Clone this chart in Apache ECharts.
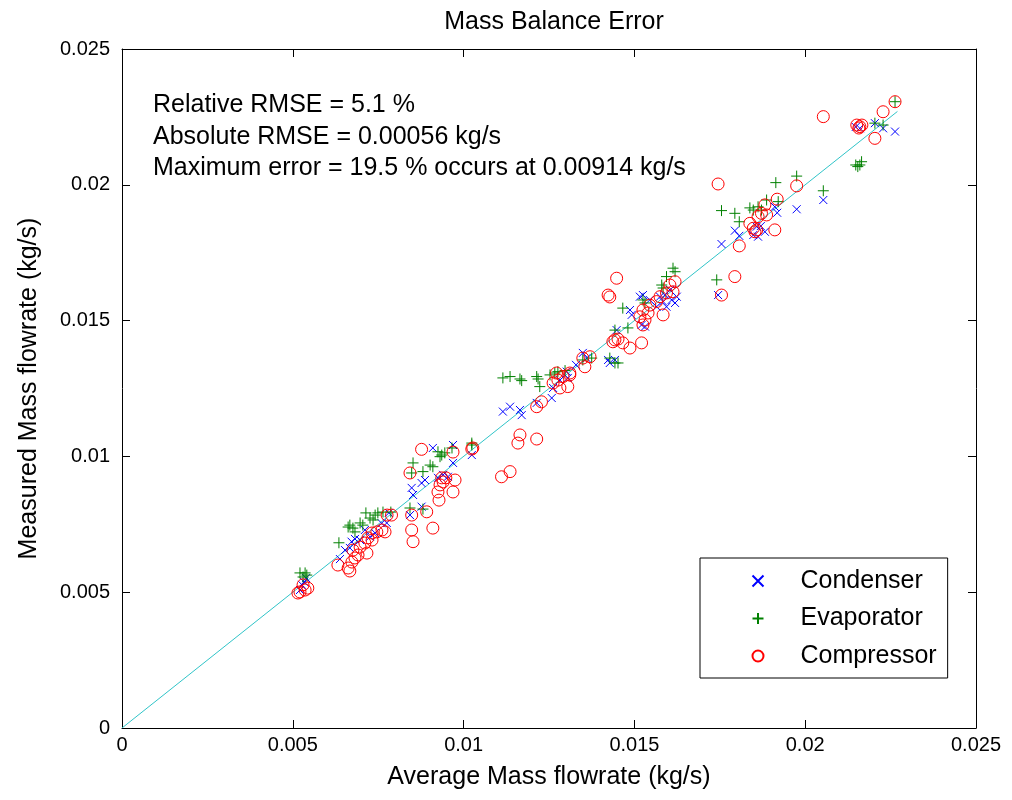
<!DOCTYPE html>
<html>
<head>
<meta charset="utf-8">
<script src="https://cdn.jsdelivr.net/npm/echarts@6/dist/echarts.min.js"></script>
<style>
  html, body { margin: 0; padding: 0; background: #fff; }
  #chart { width: 1012px; height: 800px; }
</style>
</head>
<body>
<div id="chart"></div>
<script>
// Measured vs. average mass flowrate (kg/s) for each component
const condenser = [
  [0.00527,0.00527],[0.00533,0.00538],[0.00521,0.00508],[0.00539,0.00552],
  [0.00672,0.00686],[0.00682,0.00696],[0.00638,0.00622],[0.0076,0.00754],[0.00775,0.00755],[0.00726,0.00704],[0.00741,0.00718],[0.00667,0.00663],[0.00711,0.00729],[0.00781,0.00792],[0.00697,0.00692],[0.00653,0.00655],
  [0.0091,0.01031],[0.00969,0.01042],[0.01024,0.01005],[0.0094,0.00932],[0.00954,0.00925],[0.00887,0.00913],[0.00877,0.00902],[0.00848,0.00884],[0.00852,0.00858],[0.00877,0.00815],[0.00843,0.00784],[0.00969,0.00976],[0.00925,0.00921],
  [0.01115,0.01165],[0.01136,0.01183],[0.01165,0.01171],[0.0117,0.01152],[0.01214,0.01197],[0.01258,0.01215],[0.01262,0.01252],[0.01302,0.01312],[0.01305,0.01289],[0.01349,0.01381],[0.01428,0.01344],[0.01282,0.01281],[0.01329,0.01337],
  [0.01516,0.01588],[0.01525,0.01594],[0.01487,0.01539],[0.01492,0.01521],[0.01521,0.01484],[0.01531,0.01478],[0.01448,0.01465],[0.01423,0.01355],[0.01443,0.01355],[0.0136,0.01362],[0.01545,0.01576],[0.01565,0.01551],[0.01594,0.01551],[0.01609,0.01576],[0.01619,0.01565],[0.01604,0.01613],[0.01575,0.01588],[0.01589,0.01594],[0.01624,0.01588],[0.01584,0.0157],
  [0.01975,0.0191],[0.01918,0.01897],[0.02053,0.01944],[0.01755,0.01782],[0.01794,0.01831],[0.01807,0.01812],[0.01848,0.01815],[0.01862,0.01809],[0.01882,0.01827],[0.01858,0.01846],[0.01745,0.01594],[0.01911,0.01919],[0.0187,0.01848],
  [0.0216,0.02208],[0.02204,0.02227],[0.02228,0.02208],[0.02263,0.02196],[0.02148,0.02213]
];

const evaporator = [
  [0.00521,0.00571],[0.00536,0.00571],[0.0053,0.00556],[0.00541,0.00563],
  [0.00635,0.00682],[0.00667,0.00747],[0.00676,0.00736],[0.00697,0.00755],[0.00705,0.00747],[0.00726,0.00773],[0.00741,0.00784],[0.00749,0.00792],[0.00764,0.00795],[0.00735,0.00766],[0.00682,0.00722],[0.00787,0.00795],[0.00662,0.0074],[0.00714,0.00792],
  [0.00925,0.01017],[0.00936,0.01005],[0.00945,0.01013],[0.00931,0.00999],[0.00852,0.00976],[0.00902,0.00968],[0.0091,0.00962],[0.00848,0.00939],[0.00881,0.00944],[0.01024,0.01042],[0.00843,0.0081],[0.00881,0.00806],[0.00966,0.01031],[0.01024,0.01049],
  [0.01115,0.01289],[0.01136,0.01294],[0.01165,0.01285],[0.0117,0.01279],[0.01214,0.01294],[0.01218,0.01285],[0.01253,0.013],[0.01267,0.01307],[0.01276,0.01312],[0.01223,0.01257],[0.01297,0.01316],[0.01349,0.01355],[0.01428,0.01362],[0.01443,0.01344],
  [0.01613,0.01693],[0.01619,0.0168],[0.01594,0.01662],[0.0158,0.01631],[0.01525,0.01576],[0.01531,0.01565],[0.01466,0.01546],[0.01443,0.01465],[0.01481,0.01473],[0.01452,0.01344],[0.01375,0.01362],[0.01584,0.0162],[0.01741,0.0165],
  [0.01975,0.02032],[0.01914,0.02008],[0.02053,0.01978],[0.01755,0.01905],[0.01794,0.01895],[0.01807,0.01864],[0.01848,0.01907],[0.01862,0.01919],[0.01887,0.01944],[0.01921,0.01938],[0.01872,0.01907],[0.01838,0.01915],
  [0.0216,0.02073],[0.02165,0.02085],[0.02154,0.02067],[0.02148,0.02073],[0.02204,0.02227],[0.02228,0.0222],[0.02263,0.02306]
];

const compressor = [
  [0.00521,0.00501],[0.00536,0.00508],[0.0053,0.00527],[0.00544,0.00515],[0.00515,0.00497],
  [0.00632,0.006],[0.00662,0.00589],[0.00673,0.00611],[0.00682,0.00626],[0.00697,0.00666],[0.00711,0.00681],[0.0072,0.007],[0.00732,0.00718],[0.00746,0.00722],[0.00761,0.00729],[0.0077,0.00722],[0.00776,0.00784],[0.00676,0.00655],[0.00691,0.00637],[0.00717,0.00644],[0.00667,0.00578],[0.00732,0.00692],[0.00789,0.00784],
  [0.00877,0.01026],[0.00843,0.00939],[0.00969,0.01016],[0.01024,0.01027],[0.00936,0.00921],[0.0094,0.00906],[0.00931,0.00895],[0.00925,0.00869],[0.00969,0.00869],[0.00928,0.00839],[0.00975,0.00913],[0.00848,0.00784],[0.00892,0.00796],[0.00848,0.00729],[0.0091,0.00736],[0.00852,0.00686],[0.00948,0.00921],
  [0.01165,0.01079],[0.01159,0.01049],[0.01214,0.01064],[0.01136,0.00944],[0.01111,0.00925],[0.01214,0.01183],[0.01228,0.01201],[0.01262,0.0127],[0.01276,0.01281],[0.01291,0.01294],[0.01311,0.01307],[0.01282,0.01252],[0.01305,0.01257],[0.01272,0.01307],[0.01355,0.0133],[0.0137,0.01367],[0.01437,0.01422],[0.01027,0.01031],
  [0.01448,0.01656],[0.01423,0.01594],[0.01428,0.01587],[0.01521,0.01418],[0.01487,0.01399],[0.01466,0.01418],[0.01452,0.01432],[0.01443,0.01429],[0.01349,0.01362],[0.01311,0.013],[0.01525,0.01539],[0.0154,0.01528],[0.01516,0.01514],[0.01531,0.01502],[0.01525,0.01484],[0.01545,0.01557],[0.01565,0.0157],[0.01584,0.01521],[0.01575,0.01588],[0.01594,0.01602],[0.01613,0.01606],[0.01619,0.01643],[0.01604,0.01631],
  [0.01745,0.02003],[0.01975,0.01996],[0.01918,0.01947],[0.01882,0.01926],[0.01872,0.01895],[0.01862,0.01883],[0.01838,0.01858],[0.01848,0.0184],[0.01858,0.01834],[0.01911,0.01834],[0.01807,0.01775],[0.01794,0.01662],[0.01755,0.01594],[0.01887,0.01889],[0.01853,0.01827],
  [0.02053,0.02251],[0.0216,0.02214],[0.02151,0.0222],[0.02166,0.0222],[0.02157,0.02209],[0.02204,0.02171],[0.02228,0.02269],[0.02263,0.02306]
];

// y = x reference line end points
const parityLine = [[0, 0], [0.0227, 0.0227]];

const tickValues = [0, 0.005, 0.01, 0.015, 0.02, 0.025];
const seriesNames = ['Condenser', 'Evaporator', 'Compressor'];
const statsText = [
  'Relative RMSE = 5.1 %',
  'Absolute RMSE = 0.00056 kg/s',
  'Maximum error = 19.5 % occurs at 0.00914 kg/s'
];

const FONT = '"Liberation Sans", Arial, Helvetica, sans-serif';
const TICK_SIZE = 20;
const TEXT_SIZE = 25;
const fmt = v => String(parseFloat(v.toFixed(4)));

function axisCommon(extra) {
  return Object.assign({
    type: 'value',
    min: tickValues[0],
    max: tickValues[tickValues.length - 1],
    interval: tickValues[1] - tickValues[0],
    axisLine: { show: true, onZero: false, lineStyle: { color: '#000', width: 1 } },
    axisTick: { show: true, inside: true, length: 8, lineStyle: { color: '#000' } },
    splitLine: { show: false },
    axisLabel: { show: false }
  }, extra);
}

const chart = echarts.init(document.getElementById('chart'), null, { renderer: 'canvas' });

chart.setOption({
  animation: false,
  backgroundColor: '#fff',
  title: {
    text: 'Mass Balance Error',
    left: 549, top: 5, textAlign: 'center',
    textStyle: { color: '#000', fontFamily: FONT, fontSize: TEXT_SIZE, fontWeight: 'normal' }
  },
  grid: { left: 122, right: 36, top: 49, bottom: 72, containLabel: false },
  xAxis: [
    axisCommon({
      position: 'bottom',
      name: 'Average Mass flowrate (kg/s)', nameLocation: 'middle', nameGap: 37,
      nameTextStyle: { color: '#000', fontFamily: FONT, fontSize: TEXT_SIZE },
      axisLabel: { show: true, color: '#000', fontFamily: FONT, fontSize: TICK_SIZE, margin: 7, formatter: fmt }
    }),
    axisCommon({ position: 'top' })
  ],
  yAxis: [
    axisCommon({
      position: 'left',
      name: 'Measured Mass flowrate (kg/s)', nameLocation: 'middle', nameGap: 80,
      nameTextStyle: { color: '#000', fontFamily: FONT, fontSize: TEXT_SIZE },
      axisLabel: { show: true, color: '#000', fontFamily: FONT, fontSize: TICK_SIZE, margin: 12, formatter: fmt }
    }),
    axisCommon({ position: 'right' })
  ],
  legend: {
    data: seriesNames,
    orient: 'vertical',
    left: 700, top: 558,
    padding: [10, 11, 9, 50],
    itemWidth: 11, itemHeight: 11,
    itemGap: 11.5,
    backgroundColor: '#fff',
    borderColor: '#000', borderWidth: 1, borderRadius: 0,
    textStyle: { color: '#000', fontFamily: FONT, fontSize: TEXT_SIZE, lineHeight: 26, padding: [0, 0, 0, 32] }
  },
  graphic: statsText.map((t, i) => ({
    type: 'text',
    left: 153, top: 93 + i * 31.5,
    style: { text: t, fill: '#000', font: TEXT_SIZE + 'px ' + FONT }
  })),
  series: [
    {
      name: 'y = x', type: 'line', data: parityLine, symbol: 'none',
      lineStyle: { color: '#30c4c8', width: 1 }, silent: true, z: 1
    },
    {
      name: 'Condenser', type: 'scatter', data: condenser,
      symbol: 'path://M0,0L10,10M0,10L10,0', symbolSize: 8,
      itemStyle: { color: 'none', borderColor: '#0000ff', borderWidth: 1, opacity: 1 }, z: 3
    },
    {
      name: 'Evaporator', type: 'scatter', data: evaporator,
      symbol: 'path://M5,0L5,10M0,5L10,5', symbolSize: 11,
      itemStyle: { color: 'none', borderColor: '#008000', borderWidth: 1, opacity: 1 }, z: 4
    },
    {
      name: 'Compressor', type: 'scatter', data: compressor,
      symbol: 'circle', symbolSize: 12,
      itemStyle: { color: 'none', borderColor: '#ff0000', borderWidth: 1, opacity: 1 }, z: 5
    }
  ]
});
</script>
</body>
</html>
